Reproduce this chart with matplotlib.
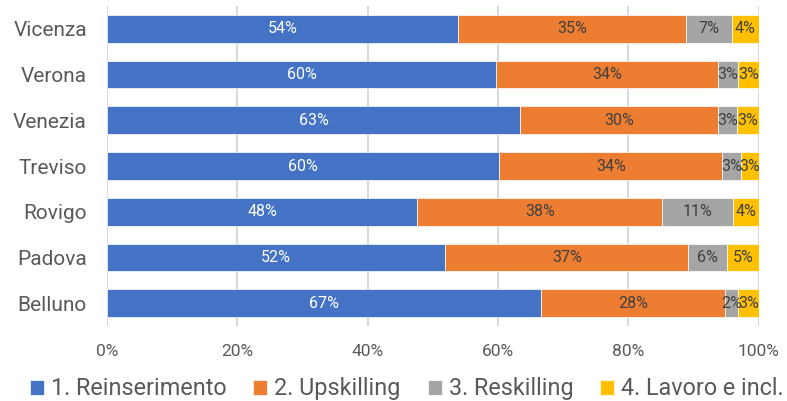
import matplotlib
matplotlib.use("Agg")
import matplotlib.pyplot as plt
import numpy as np

categories = ["Belluno", "Padova", "Rovigo", "Treviso", "Venezia", "Verona", "Vicenza"]
series_names = ["1. Reinserimento", "2. Upskilling", "3. Reskilling", "4. Lavoro e incl."]
reinserimento = [66.6, 51.9, 47.6, 60.2, 63.4, 59.7, 53.9]
upskilling    = [28.2, 37.3, 37.6, 34.2, 30.3, 34.1, 34.9]
reskilling    = [2.0, 6.0, 10.9, 2.9, 3.0, 3.0, 7.1]
lavoro        = [3.2, 4.8, 3.9, 2.7, 3.3, 3.2, 4.1]
xticks = [0, 20, 40, 60, 80, 100]
xticklabels = ["0%", "20%", "40%", "60%", "80%", "100%"]

colors = ["#4472C4", "#ED7D31", "#A5A5A5", "#FFC000"]
label_colors = ["white", "#404040", "#404040", "#404040"]
text_color = "#595959"
main_font = ["Roboto", "DejaVu Sans"]

fig = plt.figure(figsize=(7.87, 4.01), dpi=100)
ax = fig.add_axes([0.136, 0.187, 0.828, 0.798])

series = [reinserimento, upskilling, reskilling, lavoro]
y = np.arange(len(categories))
left = np.zeros(len(categories))
for vals, name, c, lc in zip(series, series_names, colors, label_colors):
    vals = np.array(vals)
    ax.barh(y, vals, left=left, height=0.606, color=c, label=name,
            edgecolor="white", linewidth=0.5, zorder=3)
    for yi, l, v in zip(y, left, vals):
        ax.text(l + v / 2, yi, f"{int(round(v))}%", ha="center", va="center",
                color=lc, fontsize=11.5, family=main_font, zorder=4)
    left = left + vals

ax.set_xlim(0, 100)
ax.set_ylim(-0.5, len(categories) - 0.5)
ax.set_xticks(xticks)
ax.set_xticklabels(xticklabels, family=main_font, fontsize=12.5, color=text_color)
ax.set_yticks(y)
ax.set_yticklabels(categories, family=main_font, fontsize=15, color=text_color)
ax.tick_params(axis="both", length=0)
ax.tick_params(axis="x", pad=13)
ax.tick_params(axis="y", pad=14.5)
ax.grid(axis="x", color="#D9D9D9", linewidth=1.5, zorder=0)
for s in ax.spines.values():
    s.set_visible(False)

handles, labels = ax.get_legend_handles_labels()
leg = fig.legend(handles, labels, loc="center", bbox_to_anchor=(0.517, 0.03), ncol=4,
                 frameon=False, prop={"family": main_font, "size": 16.8},
                 handlelength=0.6, handleheight=0.6, handletextpad=0.3,
                 columnspacing=1.15, borderaxespad=0)
for t in leg.get_texts():
    t.set_color(text_color)

fig.savefig("out.png", dpi=100)
